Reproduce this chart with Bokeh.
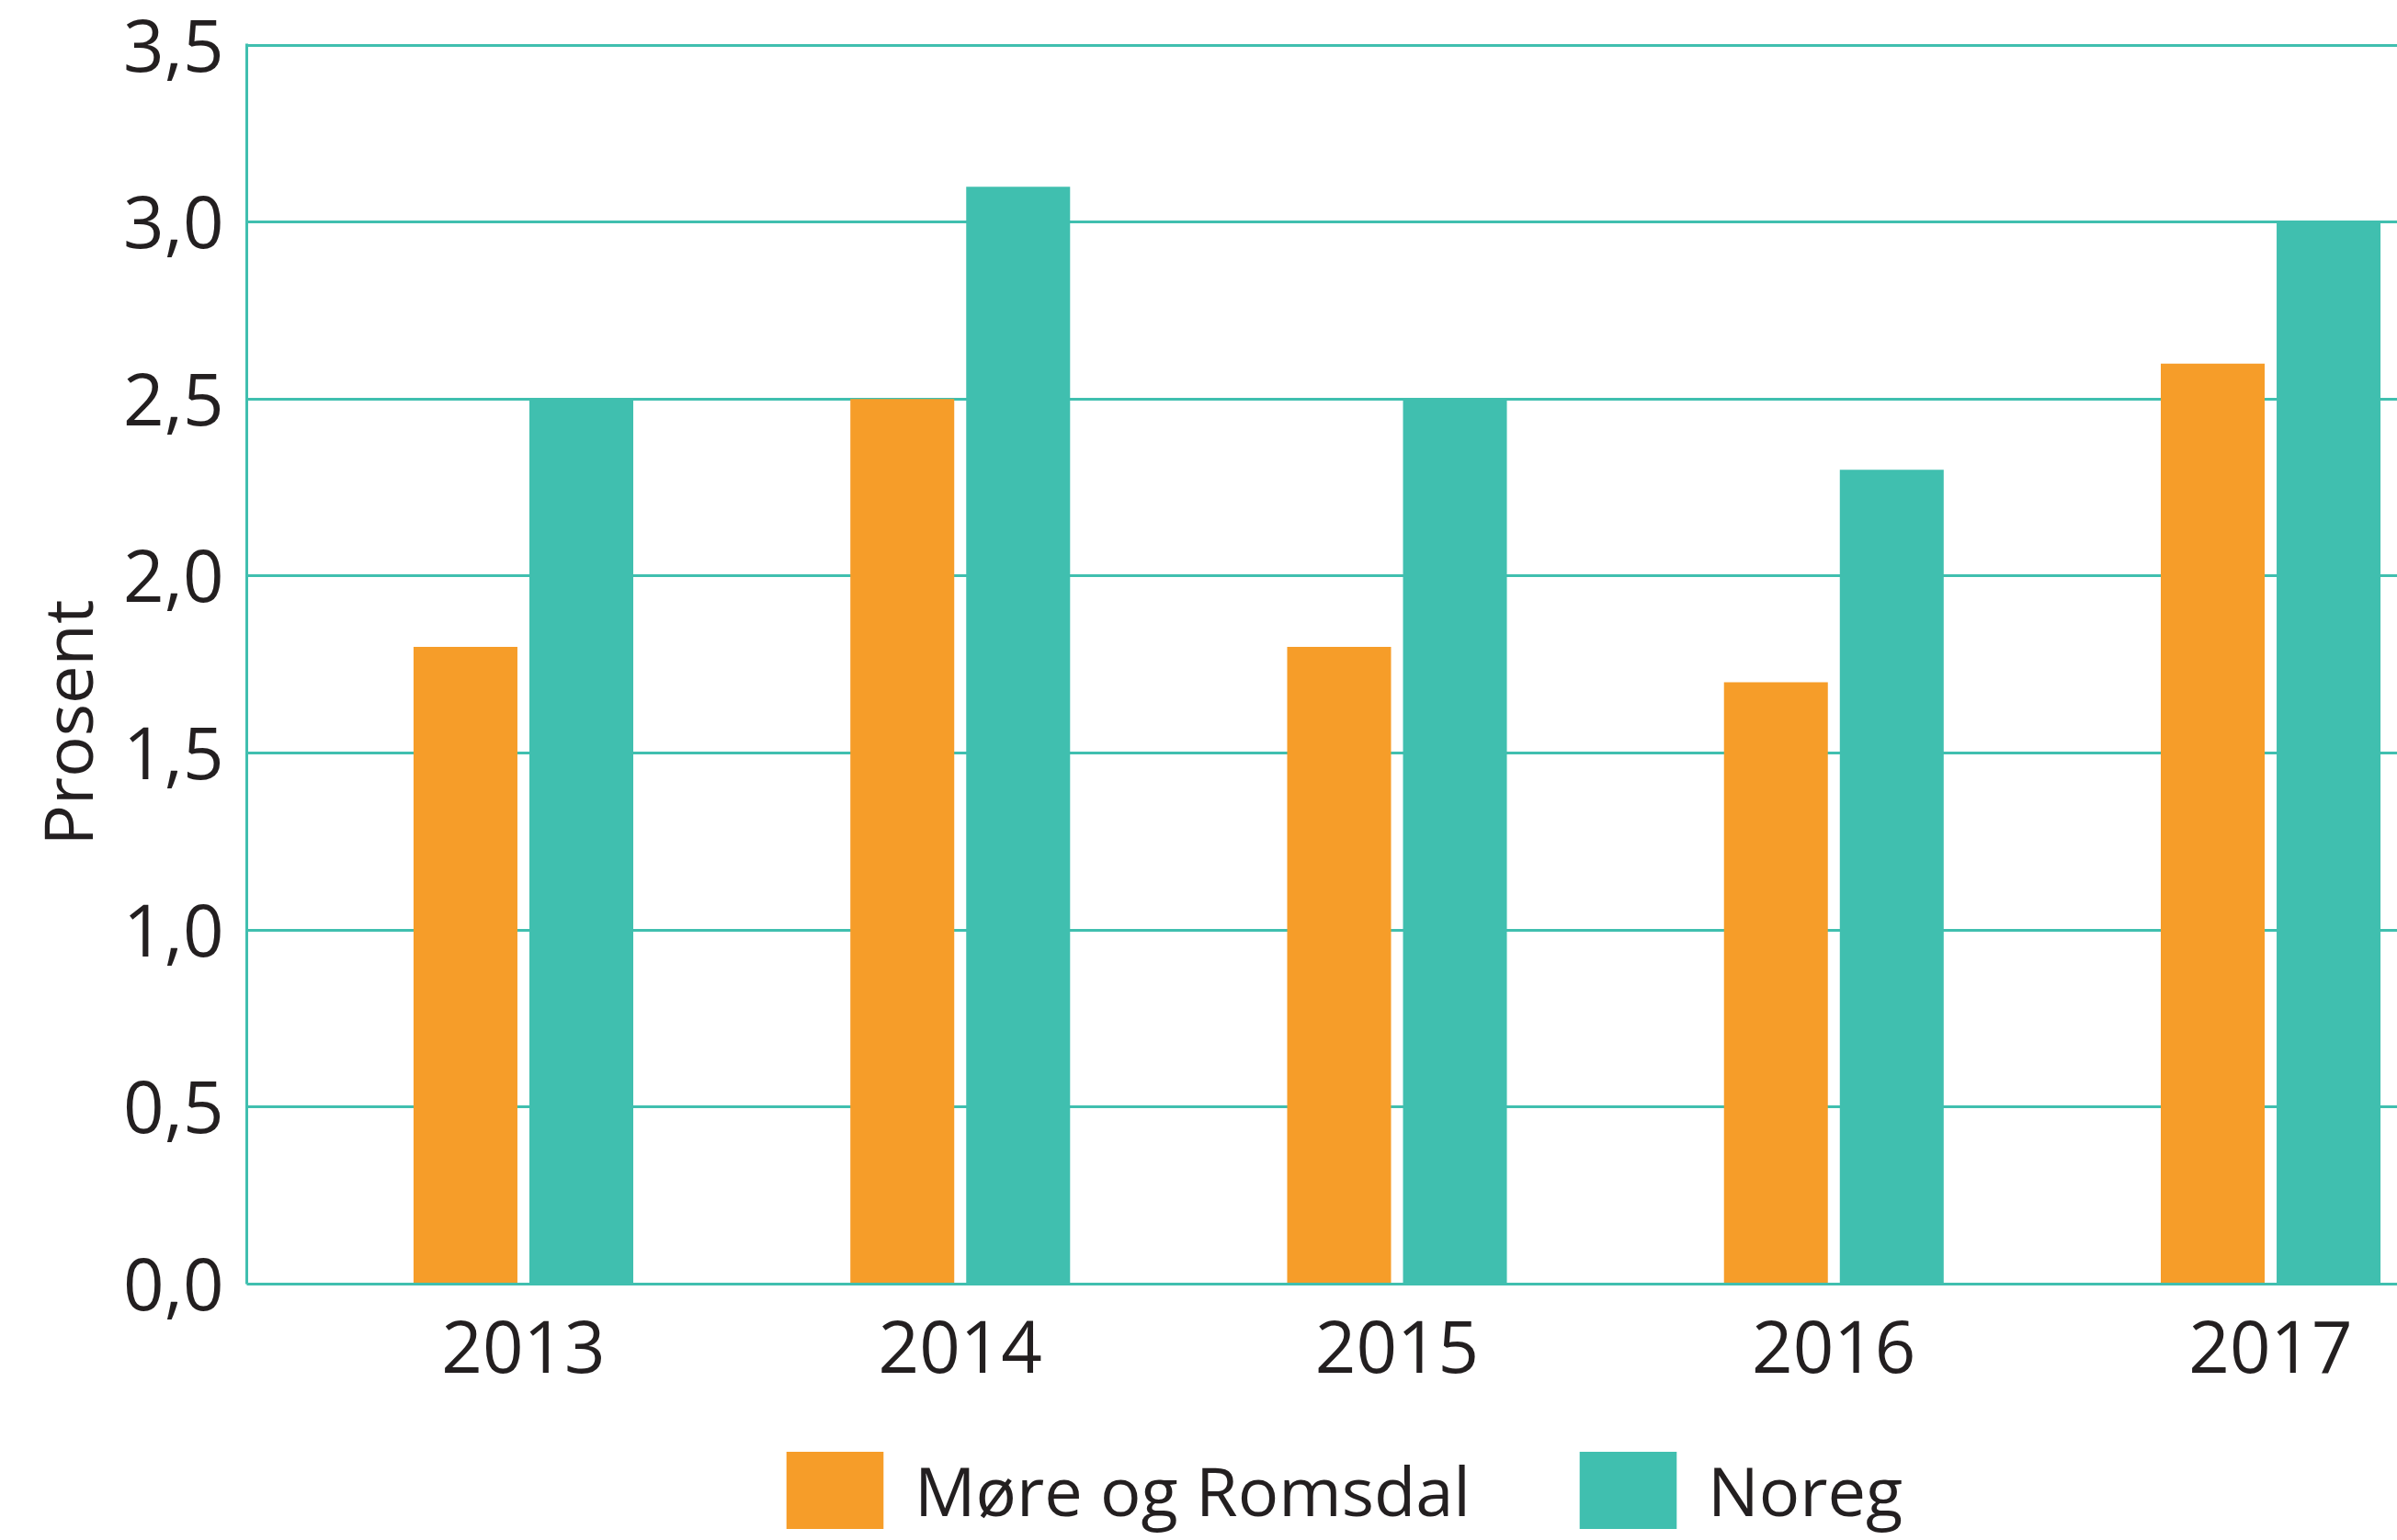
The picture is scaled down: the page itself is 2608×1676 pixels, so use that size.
from bokeh.plotting import figure
from bokeh.models import (Range1d, FixedTicker, CustomJSTickFormatter, Legend,
                          LegendItem, ColumnDataSource, Title)
from bokeh.layouts import column
from bokeh.transform import dodge
from bokeh.embed import file_html
from bokeh.resources import INLINE

# ---- data ----
years = [2013, 2014, 2015, 2016, 2017]
more_og_romsdal = [1.8, 2.5, 1.8, 1.7, 2.6]
noreg = [2.5, 3.1, 2.5, 2.3, 3.0]
series_names = ["Møre og Romsdal", "Noreg"]
y_ticks = [0.0, 0.5, 1.0, 1.5, 2.0, 2.5, 3.0, 3.5]
y_label = "Prosent"

# ---- style ----
ORANGE = "#F69D29"
TEAL = "#40BFAF"
TEXT = "#231F20"
FONT = "Open Sans"
colors = [ORANGE, TEAL]

src = ColumnDataSource(dict(year=years, more=more_og_romsdal, noreg=noreg))

p = figure(frame_width=2340, frame_height=1350, output_backend="svg",
           toolbar_location=None,
           x_range=Range1d(years[0] - 0.6333, years[-1] + 0.2903),
           y_range=Range1d(0, 3.504),
           min_border_left=268, min_border_right=0, min_border_top=47,
           min_border_bottom=150)
p.title.visible = False
p.background_fill_color = "white"
p.border_fill_color = "white"
p.outline_line_color = None

bar_w = 0.2378
off = 0.1326
r1 = p.vbar(x=dodge("year", -off, range=p.x_range), top="more", width=bar_w,
            source=src, fill_color=ORANGE, line_color=None)
r2 = p.vbar(x=dodge("year", off, range=p.x_range), top="noreg", width=bar_w,
            source=src, fill_color=TEAL, line_color=None)

p.xaxis.ticker = FixedTicker(ticks=years)
p.yaxis.ticker = FixedTicker(ticks=y_ticks)
p.yaxis.formatter = CustomJSTickFormatter(code="return tick.toFixed(1).replace('.', ',');")

for ax in (p.xaxis, p.yaxis):
    ax.axis_line_color = TEAL
    ax.axis_line_width = 3
    ax.major_tick_line_color = None
    ax.minor_tick_line_color = None
    ax.major_tick_out = 0
    ax.major_tick_in = 0
    ax.major_label_text_font = FONT
    ax.major_label_text_font_size = "78px"
    ax.major_label_text_color = TEXT

p.xaxis.major_label_standoff = 39
p.yaxis.major_label_standoff = 25

ylab = Title(text=y_label, align="left", offset=477, standoff=18, text_font=FONT,
             text_font_size="74px", text_font_style="normal", text_color=TEXT)
p.add_layout(ylab, "left")

p.xgrid.visible = False
p.ygrid.grid_line_color = TEAL
p.ygrid.grid_line_width = 3

# ---- legend strip below the chart (frame aligned with the chart's frame) ----
leg = figure(width=2608, height=129, output_backend="svg", toolbar_location=None,
             x_axis_type=None, y_axis_type=None, min_border=0,
             x_range=Range1d(0, 1), y_range=Range1d(0, 1))
leg.title.visible = False
leg.outline_line_color = None
leg.xgrid.visible = False
leg.ygrid.visible = False
leg.background_fill_color = "white"
leg.border_fill_color = "white"

# swatch renderers sit outside the visible range; only their legend glyphs show
swatches = [leg.vbar(x=[5], top=[1], width=0.1, fill_color=c, line_color=None)
            for c in colors]

legend = Legend(items=[LegendItem(label=n, renderers=[r]) for n, r in zip(series_names, swatches)],
                orientation="horizontal", location=(574, 2),
                glyph_width=132, glyph_height=105,
                label_standoff=21, spacing=105,
                padding=0, margin=0, border_line_color=None,
                background_fill_alpha=0, label_text_font=FONT,
                label_text_font_size="74px", label_text_color=TEXT)
leg.add_layout(legend, "center")

layout = column(p, leg, spacing=0)
open("out.html", "w").write(file_html(layout, INLINE))
